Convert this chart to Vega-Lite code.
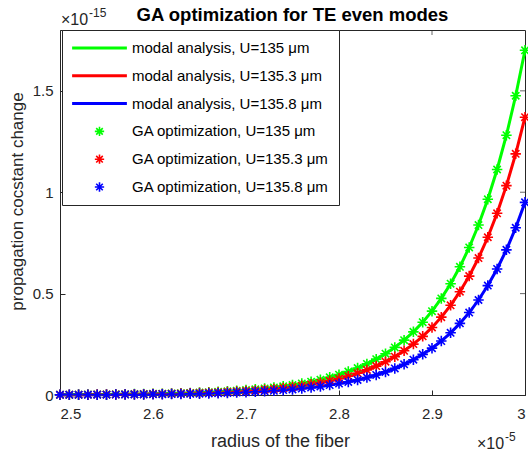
{
  "$schema": "https://vega.github.io/schema/vega-lite/v6.json",
  "width": 465,
  "height": 365,
  "autosize": {"type": "none"},
  "padding": {"left": 60, "top": 30, "right": 3, "bottom": 58},
  "background": "white",
  "config": {
    "font": "Liberation Sans",
    "view": {"stroke": "#262626", "strokeWidth": 1},
    "axis": {
      "grid": false,
      "domainColor": "#262626",
      "tickColor": "#262626",
      "labelColor": "#262626",
      "titleColor": "#262626",
      "labelFont": "Liberation Sans",
      "titleFont": "Liberation Sans",
      "labelFontSize": 15,
      "titleFontWeight": "normal",
      "tickSize": -5,
      "domainWidth": 1
    }
  },
  "title": {
    "text": "GA optimization for TE even modes",
    "fontSize": 18.5,
    "fontWeight": "bold",
    "font": "Liberation Sans",
    "color": "#000000",
    "anchor": "middle",
    "baseline": "alphabetic",
    "offset": -10,
    "dy": 22
  },
  "datasets": {
    "curves": [
      {"r": 2.50, "g": 0.0014, "rd": 0.0012, "b": 0.0008},
      {"r": 2.51, "g": 0.0017, "rd": 0.0014, "b": 0.0009},
      {"r": 2.52, "g": 0.0019, "rd": 0.0015, "b": 0.0010},
      {"r": 2.53, "g": 0.0022, "rd": 0.0018, "b": 0.0012},
      {"r": 2.54, "g": 0.0026, "rd": 0.0021, "b": 0.0014},
      {"r": 2.55, "g": 0.0029, "rd": 0.0023, "b": 0.0016},
      {"r": 2.56, "g": 0.0034, "rd": 0.0027, "b": 0.0019},
      {"r": 2.57, "g": 0.0039, "rd": 0.0031, "b": 0.0022},
      {"r": 2.58, "g": 0.0044, "rd": 0.0036, "b": 0.0025},
      {"r": 2.59, "g": 0.0051, "rd": 0.0041, "b": 0.0029},
      {"r": 2.60, "g": 0.0059, "rd": 0.0048, "b": 0.0033},
      {"r": 2.61, "g": 0.0068, "rd": 0.0055, "b": 0.0038},
      {"r": 2.62, "g": 0.0078, "rd": 0.0063, "b": 0.0044},
      {"r": 2.63, "g": 0.0090, "rd": 0.0073, "b": 0.0050},
      {"r": 2.64, "g": 0.0104, "rd": 0.0084, "b": 0.0058},
      {"r": 2.65, "g": 0.0121, "rd": 0.0097, "b": 0.0067},
      {"r": 2.66, "g": 0.0139, "rd": 0.0112, "b": 0.0078},
      {"r": 2.67, "g": 0.0160, "rd": 0.0129, "b": 0.0090},
      {"r": 2.68, "g": 0.0184, "rd": 0.0148, "b": 0.0103},
      {"r": 2.69, "g": 0.0212, "rd": 0.0171, "b": 0.0119},
      {"r": 2.70, "g": 0.0244, "rd": 0.0196, "b": 0.0136},
      {"r": 2.71, "g": 0.0281, "rd": 0.0226, "b": 0.0157},
      {"r": 2.72, "g": 0.0323, "rd": 0.0260, "b": 0.0181},
      {"r": 2.73, "g": 0.0372, "rd": 0.0300, "b": 0.0208},
      {"r": 2.74, "g": 0.0429, "rd": 0.0346, "b": 0.0240},
      {"r": 2.75, "g": 0.0494, "rd": 0.0398, "b": 0.0276},
      {"r": 2.76, "g": 0.0569, "rd": 0.0459, "b": 0.0318},
      {"r": 2.77, "g": 0.0656, "rd": 0.0528, "b": 0.0366},
      {"r": 2.78, "g": 0.0756, "rd": 0.0609, "b": 0.0422},
      {"r": 2.79, "g": 0.0871, "rd": 0.0702, "b": 0.0487},
      {"r": 2.80, "g": 0.1003, "rd": 0.0808, "b": 0.0561},
      {"r": 2.81, "g": 0.1156, "rd": 0.0931, "b": 0.0646},
      {"r": 2.82, "g": 0.1332, "rd": 0.1073, "b": 0.0744},
      {"r": 2.83, "g": 0.1535, "rd": 0.1237, "b": 0.0858},
      {"r": 2.84, "g": 0.1768, "rd": 0.1425, "b": 0.0988},
      {"r": 2.85, "g": 0.2037, "rd": 0.1642, "b": 0.1138},
      {"r": 2.86, "g": 0.2347, "rd": 0.1891, "b": 0.1311},
      {"r": 2.87, "g": 0.2704, "rd": 0.2179, "b": 0.1511},
      {"r": 2.88, "g": 0.3115, "rd": 0.2510, "b": 0.1741},
      {"r": 2.89, "g": 0.3589, "rd": 0.2892, "b": 0.2005},
      {"r": 2.90, "g": 0.4135, "rd": 0.3332, "b": 0.2310},
      {"r": 2.91, "g": 0.4764, "rd": 0.3839, "b": 0.2662},
      {"r": 2.92, "g": 0.5488, "rd": 0.4423, "b": 0.3067},
      {"r": 2.93, "g": 0.6323, "rd": 0.5095, "b": 0.3533},
      {"r": 2.94, "g": 0.7276, "rd": 0.5864, "b": 0.4066},
      {"r": 2.95, "g": 0.8381, "rd": 0.6754, "b": 0.4684},
      {"r": 2.96, "g": 0.9654, "rd": 0.7780, "b": 0.5395},
      {"r": 2.97, "g": 1.1121, "rd": 0.8962, "b": 0.6215},
      {"r": 2.98, "g": 1.2811, "rd": 1.0324, "b": 0.7159},
      {"r": 2.99, "g": 1.4758, "rd": 1.1893, "b": 0.8247},
      {"r": 3.00, "g": 1.7000, "rd": 1.3700, "b": 0.9500}
    ]
  },
  "layer": [
    {
      "data": {"name": "curves"},
      "transform": [
        {"fold": ["g", "rd", "b"], "as": ["key", "v"]},
        {"calculate": "datum.key === 'g' ? '135' : (datum.key === 'rd' ? '135.3' : '135.8')", "as": "U"},
        {"calculate": "'modal analysis, U=' + datum.U + ' μm'", "as": "lineLabel"}
      ],
      "mark": {"type": "line", "strokeWidth": 3},
      "encoding": {
        "x": {
          "field": "r", "type": "quantitative",
          "scale": {"domain": [2.5, 3], "nice": false, "zero": false},
          "axis": {
            "values": [2.5, 2.6, 2.7, 2.8, 2.9, 3],
            "format": "~g",
            "labelPadding": 16,
            "title": "radius of the fiber",
            "titleFontSize": 18,
            "titleX": 220,
            "titleY": 51,
            "titleAlign": "center",
            "titleBaseline": "alphabetic"
          }
        },
        "y": {
          "field": "v", "type": "quantitative",
          "scale": {"domain": [0, 1.8], "nice": false, "zero": false},
          "axis": {
            "values": [0, 0.5, 1, 1.5],
            "format": "~g",
            "labelPadding": 12,
            "title": "propagation cocstant change",
            "titleFontSize": 17,
            "titleX": -43,
            "titleY": 171,
            "titleAlign": "center",
            "titleBaseline": "middle",
            "titleAngle": -90
          }
        },
        "color": {
          "field": "lineLabel", "type": "nominal",
          "scale": {
            "domain": [
              "modal analysis, U=135 μm",
              "modal analysis, U=135.3 μm",
              "modal analysis, U=135.8 μm",
              "GA optimization, U=135 μm",
              "GA optimization, U=135.3 μm",
              "GA optimization, U=135.8 μm"
            ],
            "range": ["#00ff00", "#ff0000", "#0000ff", "#00ff00", "#ff0000", "#0000ff"]
          },
          "legend": {
            "title": null,
            "orient": "none",
            "legendX": 2,
            "legendY": 0,
            "padding": 10,
            "rowPadding": 11.8,
            "clipHeight": 16,
            "labelFont": "Liberation Sans",
            "labelFontSize": 15,
            "labelColor": "#000000",
            "labelLimit": 400,
            "strokeColor": "#262626",
            "fillColor": "#ffffff",
            "symbolType": "stroke",
            "symbolSize": 3000,
            "symbolStrokeWidth": 3,
            "encode": {
              "symbols": {
                "update": {
                  "shape": {"signal": "indexof('' + datum.label, 'GA') === 0 ? 'M-0.17,0L0.17,0M0,-0.17L0,0.17M-0.12,-0.12L0.12,0.12M-0.12,0.12L0.12,-0.12' : 'stroke'"},
                  "strokeWidth": {"signal": "indexof('' + datum.label, 'GA') === 0 ? 1.6 : 3"},
                  "x": {"value": 27.5}
                }
              },
              "labels": {"update": {"x": {"value": 60}}}
            }
          }
        }
      }
    },
    {
      "data": {"name": "curves"},
      "transform": [
        {"fold": ["g", "rd", "b"], "as": ["key", "v"]},
        {"calculate": "datum.key === 'g' ? '135' : (datum.key === 'rd' ? '135.3' : '135.8')", "as": "U"},
        {"calculate": "'GA optimization, U=' + datum.U + ' μm'", "as": "gaLabel"}
      ],
      "mark": {
        "type": "point",
        "shape": "M-1,0L1,0M0,-1L0,1M-0.7,-0.7L0.7,0.7M-0.7,0.7L0.7,-0.7",
        "filled": false,
        "size": 110,
        "strokeWidth": 1.6,
        "opacity": 1
      },
      "encoding": {
        "x": {"field": "r", "type": "quantitative"},
        "y": {"field": "v", "type": "quantitative"},
        "color": {"field": "gaLabel", "type": "nominal"}
      }
    },
    {
      "data": {"values": [{"tx": 2.6}, {"tx": 2.7}, {"tx": 2.8}, {"tx": 2.9}]},
      "mark": {"type": "tick", "orient": "vertical", "size": 10, "thickness": 1, "color": "#262626", "clip": true},
      "encoding": {
        "x": {"field": "tx", "type": "quantitative"},
        "y": {"datum": 1.8, "type": "quantitative"}
      }
    },
    {
      "data": {"values": [{"ty": 0.5}, {"ty": 1}, {"ty": 1.5}]},
      "mark": {"type": "tick", "orient": "horizontal", "size": 10, "thickness": 1, "color": "#262626", "clip": true},
      "encoding": {
        "x": {"datum": 3, "type": "quantitative"},
        "y": {"field": "ty", "type": "quantitative"}
      }
    },
    {
      "data": {"values": [{"t": "×10", "px": 2.5, "py": 1.8}]},
      "mark": {"type": "text", "align": "left", "baseline": "alphabetic", "fontSize": 16, "color": "#262626", "dx": 1, "dy": -5},
      "encoding": {
        "x": {"field": "px", "type": "quantitative"},
        "y": {"field": "py", "type": "quantitative"},
        "text": {"field": "t", "type": "nominal"}
      }
    },
    {
      "data": {"values": [{"t": "-15", "px": 2.5, "py": 1.8}]},
      "mark": {"type": "text", "align": "left", "baseline": "alphabetic", "fontSize": 12, "color": "#262626", "dx": 29, "dy": -13},
      "encoding": {
        "x": {"field": "px", "type": "quantitative"},
        "y": {"field": "py", "type": "quantitative"},
        "text": {"field": "t", "type": "nominal"}
      }
    },
    {
      "data": {"values": [{"t": "×10", "px": 3, "py": 0}]},
      "mark": {"type": "text", "align": "left", "baseline": "alphabetic", "fontSize": 16, "color": "#262626", "dx": -48, "dy": 54},
      "encoding": {
        "x": {"field": "px", "type": "quantitative"},
        "y": {"field": "py", "type": "quantitative"},
        "text": {"field": "t", "type": "nominal"}
      }
    },
    {
      "data": {"values": [{"t": "-5", "px": 3, "py": 0}]},
      "mark": {"type": "text", "align": "left", "baseline": "alphabetic", "fontSize": 12, "color": "#262626", "dx": -20, "dy": 46},
      "encoding": {
        "x": {"field": "px", "type": "quantitative"},
        "y": {"field": "py", "type": "quantitative"},
        "text": {"field": "t", "type": "nominal"}
      }
    }
  ]
}
